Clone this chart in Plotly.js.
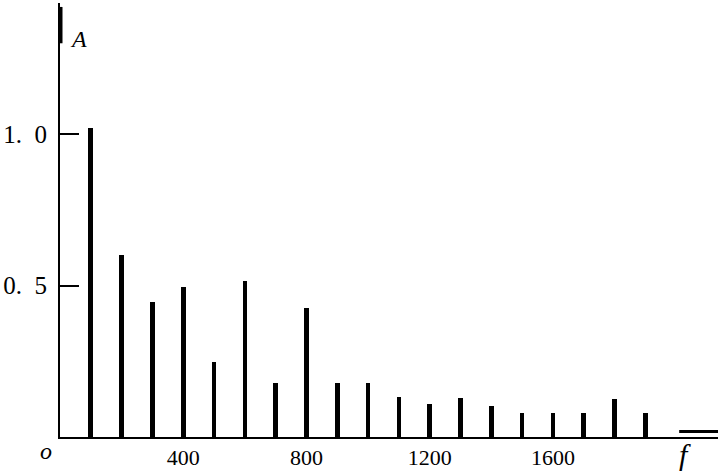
<!DOCTYPE html>
<html>
<head>
<meta charset="utf-8">
<script src="https://cdn.plot.ly/plotly-3.0.1.min.js"></script>
<style>html,body{margin:0;padding:0;background:#fff;}#chart{width:718px;height:472px;}</style>
</head>
<body>
<div id="chart"></div>
<script>
var freqs = [100, 200, 300, 400, 500, 600, 700, 800, 900, 1000, 1100, 1200, 1300, 1400, 1500, 1600, 1700, 1800, 1900];
var amps  = [1.02, 0.60, 0.445, 0.495, 0.248, 0.515, 0.178, 0.426, 0.178, 0.178, 0.132, 0.109, 0.129, 0.102, 0.079, 0.079, 0.079, 0.125, 0.079];
var xTickVals = [400, 800, 1200, 1600];
var xTickText = ['400', '800', '1200', '1600'];
var yTickVals = [0.5, 1.0];
var yTickText = ['0.\u00a0\u00a05', '1.\u00a0\u00a00'];

var serif = 'Liberation Serif, DejaVu Serif, serif';

var trace = {
  type: 'bar',
  x: freqs,
  y: amps,
  width: 15,
  marker: {color: '#000', line: {width: 0}},
  hoverinfo: 'x+y'
};

var layout = {
  width: 718, height: 472,
  margin: {l: 60, r: 0, t: 3, b: 35},
  paper_bgcolor: '#fff', plot_bgcolor: '#fff',
  showlegend: false,
  bargap: 0,
  xaxis: {
    range: [0, 2136],
    showgrid: false, zeroline: false,
    showline: true, linecolor: '#000', linewidth: 2,
    tickvals: xTickVals, ticktext: xTickText,
    ticks: '', ticklabelstandoff: 0,
    tickfont: {family: serif, size: 22, color: '#000'}
  },
  yaxis: {
    range: [0, 1.433],
    showgrid: false, zeroline: false,
    showline: true, linecolor: '#000', linewidth: 2,
    tickvals: yTickVals, ticktext: yTickText,
    ticks: 'inside', ticklen: 19, tickwidth: 2, tickcolor: '#000',
    ticklabelstandoff: 6,
    tickfont: {family: serif, size: 25, color: '#000'}
  },
  shapes: [
    {type: 'line', xref: 'x', yref: 'y', x0: 0, x1: 0, y0: 1.30, y1: 1.42, line: {color: '#000', width: 5}},
    {type: 'line', xref: 'x', yref: 'y', x0: 2010, x1: 2136, y0: 0.018, y1: 0.018, line: {color: '#000', width: 3}}
  ],
  annotations: [
    {xref: 'paper', yref: 'paper', x: 0.0, y: 1.0, xshift: 8, yshift: -36, text: '<i>A</i>', showarrow: false,
     xanchor: 'left', yanchor: 'middle', font: {family: serif, size: 24, color: '#000'}},
    {xref: 'x', yref: 'y', x: 2030, y: 0, yshift: -17, text: '<i>f</i>', showarrow: false,
     xanchor: 'center', yanchor: 'middle', font: {family: serif, size: 30, color: '#000'}},
    {xref: 'x', yref: 'y', x: 0, y: 0, xshift: -14, yshift: -14, text: '<i>o</i>', showarrow: false,
     xanchor: 'center', yanchor: 'middle', font: {family: serif, size: 24, color: '#000'}}
  ]
};

Plotly.newPlot('chart', [trace], layout, {displayModeBar: false, staticPlot: true});
</script>
</body>
</html>
